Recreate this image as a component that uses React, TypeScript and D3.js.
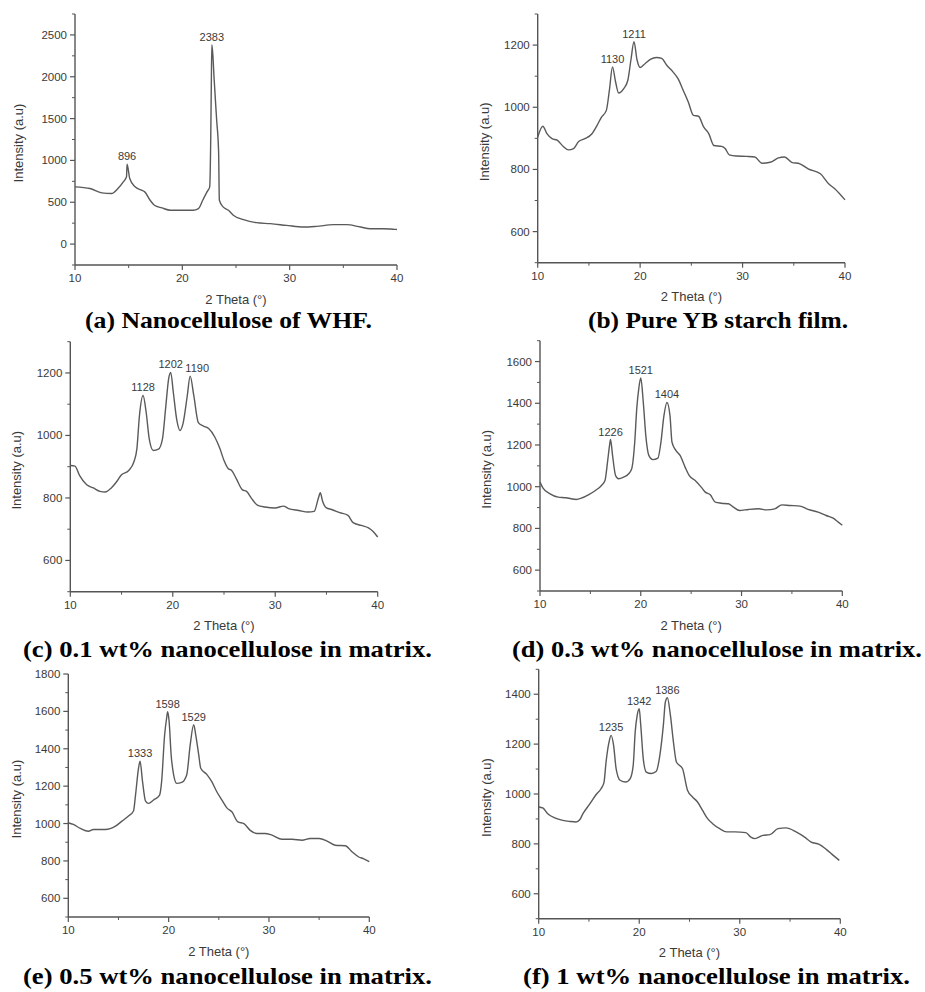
import React from "react";
import * as d3 from "d3";

// ---------- DATA ----------
const twoThetaA = [10, 11.4, 12.5, 13.4, 14.0, 14.5, 14.8, 14.85, 15.1, 15.6, 16.2, 16.5, 17.0, 17.4, 18.1, 18.9, 20.1, 21.0, 21.5, 21.9, 22.3, 22.55, 22.65, 22.7, 22.75, 22.85, 22.95, 23.2, 23.38, 23.45, 23.8, 24.3, 24.75, 25.7, 26.9, 28.2, 29.7, 31.3, 32.5, 34.1, 35.3, 36.6, 37.5, 38.7, 39.8, 40];
const intensityA = [684, 664, 612, 604, 664, 744, 804, 955, 784, 684, 644, 624, 524, 464, 432, 404, 404, 404, 424, 524, 624, 684, 1300, 1900, 2383, 2250, 2000, 1480, 1100, 524, 444, 404, 344, 292, 256, 244, 224, 204, 212, 232, 232, 204, 184, 184, 176, 175];

const twoThetaB = [10, 10.5, 10.9, 11.4, 11.9, 12.5, 13.0, 13.5, 14.0, 14.6, 15.3, 15.8, 16.2, 16.7, 17.0, 17.3, 17.6, 17.9, 18.4, 18.8, 19.1, 19.4, 19.7, 20.0, 20.5, 21.0, 21.6, 22.1, 22.6, 23.2, 23.7, 24.2, 24.7, 25.2, 25.7, 26.2, 26.7, 27.2, 27.96, 28.3, 28.7, 29.4, 30.4, 31.2, 31.9, 32.7, 33.5, 34.1, 34.8, 35.6, 36.4, 37.6, 38.4, 39.0, 40];
const intensityB = [904, 939, 915, 899, 894, 874, 863, 867, 890, 899, 915, 942, 967, 990, 1055, 1130, 1082, 1046, 1060, 1087, 1152, 1211, 1152, 1128, 1141, 1154, 1160, 1157, 1135, 1114, 1092, 1055, 1017, 974, 971, 937, 915, 877, 874, 867, 847, 843, 842, 840, 820, 823, 837, 840, 823, 818, 802, 786, 754, 738, 702];

const twoThetaC = [10, 10.45, 10.9, 11.6, 12.25, 12.9, 13.4, 14.0, 14.5, 15.0, 15.7, 16.2, 16.5, 16.75, 17.1, 17.4, 17.7, 18.1, 18.6, 19.0, 19.3, 19.6, 19.8, 20.05, 20.4, 20.7, 21.0, 21.4, 21.7, 22.05, 22.5, 23.0, 23.5, 24.1, 24.6, 25.0, 25.4, 25.75, 26.2, 26.8, 27.2, 27.7, 28.3, 29.0, 30.0, 30.8, 31.3, 32.3, 33.2, 33.8, 34.2, 34.4, 34.6, 35.0, 35.5, 36.3, 37.1, 37.6, 38.4, 39.1, 39.6, 40];
const intensityC = [904, 902, 872, 842, 832, 821, 819, 832, 851, 874, 888, 915, 958, 1064, 1128, 1075, 990, 952, 956, 990, 1086, 1182, 1202, 1139, 1048, 1016, 1038, 1123, 1190, 1128, 1041, 1030, 1022, 995, 958, 920, 894, 888, 862, 826, 821, 798, 776, 771, 768, 774, 766, 760, 755, 757, 798, 817, 792, 768, 763, 753, 744, 721, 712, 704, 691, 675];

const twoThetaD = [10, 10.3, 11.0, 11.8, 12.6, 13.1, 13.6, 14.1, 14.8, 15.5, 16.1, 16.45, 16.7, 16.9, 17.0, 17.2, 17.5, 17.8, 18.3, 18.8, 19.1, 19.4, 19.6, 19.8, 20.0, 20.25, 20.5, 20.8, 21.2, 21.7, 22.0, 22.3, 22.6, 22.9, 23.1, 23.5, 23.9, 24.4, 24.8, 25.4, 26.0, 26.4, 26.9, 27.4, 28.0, 28.7, 29.2, 29.8, 30.7, 31.7, 32.5, 33.3, 34.0, 34.8, 35.8, 36.6, 37.6, 38.4, 39.1, 39.6, 40];
const intensityD = [1022, 993, 966, 950, 947, 942, 939, 945, 961, 982, 1006, 1030, 1118, 1197, 1226, 1150, 1054, 1038, 1046, 1062, 1086, 1213, 1373, 1469, 1521, 1405, 1245, 1150, 1130, 1137, 1213, 1341, 1404, 1341, 1213, 1173, 1150, 1094, 1054, 1030, 998, 974, 961, 926, 921, 918, 902, 886, 891, 894, 889, 894, 913, 910, 907, 891, 878, 862, 849, 830, 815];

const twoThetaE = [10, 10.5, 11.2, 12.0, 12.5, 13.7, 14.7, 15.35, 16.0, 16.5, 16.7, 17.0, 17.15, 17.4, 17.7, 18.0, 18.5, 19.1, 19.3, 19.6, 19.8, 19.9, 20.05, 20.25, 20.5, 20.8, 21.3, 21.8, 22.15, 22.5, 22.7, 23.0, 23.2, 23.8, 24.3, 24.8, 25.3, 25.8, 26.3, 26.9, 27.5, 28.1, 28.8, 29.6, 30.3, 31.3, 32.3, 33.3, 34.1, 35.0, 35.8, 36.6, 37.6, 38.3, 38.95, 39.4, 40];
const intensityE = [1004, 995, 974, 959, 968, 968, 986, 1013, 1040, 1067, 1152, 1296, 1333, 1224, 1120, 1108, 1126, 1152, 1224, 1474, 1564, 1598, 1546, 1367, 1260, 1215, 1220, 1260, 1421, 1529, 1474, 1367, 1296, 1263, 1224, 1170, 1126, 1084, 1063, 1009, 1000, 965, 947, 947, 938, 916, 916, 911, 920, 920, 906, 884, 881, 848, 821, 812, 796];

const twoThetaF = [10, 10.4, 10.9, 11.6, 12.4, 13.1, 13.7, 14.1, 14.4, 15.1, 15.7, 16.2, 16.5, 16.7, 17.0, 17.2, 17.45, 17.7, 18.1, 18.65, 19.1, 19.4, 19.6, 19.8, 20.0, 20.15, 20.4, 20.7, 21.2, 21.7, 22.0, 22.4, 22.6, 22.8, 23.1, 23.4, 23.7, 24.3, 24.8, 25.3, 25.8, 26.3, 26.8, 27.3, 28.0, 28.7, 29.5, 30.6, 31.1, 31.5, 32.3, 33.0, 33.8, 34.6, 35.6, 36.45, 37.1, 37.9, 38.6, 39.3, 39.9];
const intensityF = [948, 944, 921, 904, 894, 890, 888, 898, 921, 961, 997, 1021, 1048, 1128, 1209, 1235, 1195, 1102, 1055, 1048, 1062, 1115, 1249, 1316, 1342, 1276, 1142, 1088, 1082, 1091, 1142, 1276, 1369, 1386, 1316, 1209, 1128, 1102, 1015, 988, 968, 934, 901, 881, 861, 848, 848, 845, 827, 821, 834, 837, 861, 864, 848, 827, 807, 798, 778, 754, 734];

const peakThetaA = [14.85, 22.75];
const peakTextA = ["896", "2383"];
const peakThetaB = [17.3, 19.4];
const peakTextB = ["1130", "1211"];
const peakThetaC = [17.1, 19.8, 21.7];
const peakTextC = ["1128", "1202", "1190"];
const peakThetaD = [17.0, 20.0, 22.6];
const peakTextD = ["1226", "1521", "1404"];
const peakThetaE = [17.15, 19.9, 22.5];
const peakTextE = ["1333", "1598", "1529"];
const peakThetaF = [17.2, 20.0, 22.8];
const peakTextF = ["1235", "1342", "1386"];

const xTicks = [10, 20, 30, 40];
const xMinorTicks = [15, 25, 35];
const yTicksA = [0, 500, 1000, 1500, 2000, 2500];
const yTicksB = [600, 800, 1000, 1200];
const yTicksC = [600, 800, 1000, 1200];
const yTicksD = [600, 800, 1000, 1200, 1400, 1600];
const yTicksE = [600, 800, 1000, 1200, 1400, 1600, 1800];
const yTicksF = [600, 800, 1000, 1200, 1400];

const captionA = "(a) Nanocellulose of WHF.";
const captionB = "(b) Pure YB starch film.";
const captionC = "(c) 0.1 wt% nanocellulose in matrix.";
const captionD = "(d) 0.3 wt% nanocellulose in matrix.";
const captionE = "(e) 0.5 wt% nanocellulose in matrix.";
const captionF = "(f) 1 wt% nanocellulose in matrix.";

const xTitle = "2 Theta (\u00B0)";
const yTitle = "Intensity (a.u)";

// ---------- LAYOUT ----------
const panels = [
  { xs: twoThetaA, ys: intensityA, px: peakThetaA, pt: peakTextA, yTicks: yTicksA, yDomain: [-250, 2750], minor: 250,
    left: 75, right: 397, top: 14, bottom: 265, yTitleOff: 57, cap: captionA, capX: 85, capW: 287, capY: 328 },
  { xs: twoThetaB, ys: intensityB, px: peakThetaB, pt: peakTextB, yTicks: yTicksB, yDomain: [500, 1300], minor: 100,
    left: 537.7, right: 845, top: 14, bottom: 262.7, yTitleOff: 53, cap: captionB, capX: 588, capW: 260, capY: 328 },
  { xs: twoThetaC, ys: intensityC, px: peakThetaC, pt: peakTextC, yTicks: yTicksC, yDomain: [500, 1300], minor: 100,
    left: 70.3, right: 377.7, top: 341.7, bottom: 591.7, yTitleOff: 53.5, cap: captionC, capX: 23, capW: 409, capY: 657, nudge: [0, 0, 7] },
  { xs: twoThetaD, ys: intensityD, px: peakThetaD, pt: peakTextD, yTicks: yTicksD, yDomain: [500, 1700], minor: 100,
    left: 540, right: 842.3, top: 340.7, bottom: 591, yTitleOff: 53.3, cap: captionD, capX: 512, capW: 410, capY: 657 },
  { xs: twoThetaE, ys: intensityE, px: peakThetaE, pt: peakTextE, yTicks: yTicksE, yDomain: [500, 1800], minor: 100,
    left: 68.3, right: 369.3, top: 674, bottom: 917, yTitleOff: 52.3, cap: captionE, capX: 23, capW: 409, capY: 984 },
  { xs: twoThetaF, ys: intensityF, px: peakThetaF, pt: peakTextF, yTicks: yTicksF, yDomain: [500, 1500], minor: 100,
    left: 538.7, right: 840.3, top: 669.3, bottom: 918.7, yTitleOff: 52.7, cap: captionF, capX: 523, capW: 387, capY: 984 },
];

const SANS = "Liberation Sans, Arial, Helvetica, sans-serif";
const SERIF = "Liberation Serif, Times New Roman, Times, serif";
const AXIS = "#555";
const TXT = "#3a3a3a";
const LINE = "#5a5a5a";

function Panel({ p }: { p: any }) {
  const x = d3.scaleLinear().domain([10, 40]).range([p.left, p.right]);
  const y = d3.scaleLinear().domain(p.yDomain).range([p.bottom, p.top]);
  const line = d3
    .line<number>()
    .x((_, i) => x(p.xs[i]))
    .y((d) => y(d))
    .curve(d3.curveMonotoneX);
  const minorY = d3
    .range(p.yDomain[0], p.yDomain[1] + 1, p.minor)
    .filter((v: number) => !p.yTicks.includes(v));
  const cy = (p.top + p.bottom) / 2 + 3.5;
  const tx = p.left - p.yTitleOff;
  const sans = { fontFamily: SANS };
  return (
    <g>
      <line x1={p.left} x2={p.left} y1={p.top} y2={p.bottom} stroke={AXIS} strokeWidth={1.4} />
      <line x1={p.left} x2={p.right} y1={p.bottom} y2={p.bottom} stroke={AXIS} strokeWidth={1.4} />
      {p.yTicks.map((t: number) => (
        <g key={"y" + t}>
          <line x1={p.left - 5} x2={p.left} y1={y(t)} y2={y(t)} stroke={AXIS} strokeWidth={1.2} />
          <text x={p.left - 8} y={y(t)} dy="0.35em" textAnchor="end" fontSize={11.5} style={sans} fill={TXT}>
            {t}
          </text>
        </g>
      ))}
      {minorY.map((t: number) => (
        <line key={"ym" + t} x1={p.left - 3} x2={p.left} y1={y(t)} y2={y(t)} stroke={AXIS} strokeWidth={1} />
      ))}
      {xTicks.map((t) => (
        <g key={"x" + t}>
          <line x1={x(t)} x2={x(t)} y1={p.bottom} y2={p.bottom + 5} stroke={AXIS} strokeWidth={1.2} />
          <text x={x(t)} y={p.bottom + 17} textAnchor="middle" fontSize={11.5} style={sans} fill={TXT}>
            {t}
          </text>
        </g>
      ))}
      {xMinorTicks.map((t) => (
        <line key={"xm" + t} x1={x(t)} x2={x(t)} y1={p.bottom} y2={p.bottom + 3} stroke={AXIS} strokeWidth={1} />
      ))}
      <text x={(p.left + p.right) / 2} y={p.bottom + 38.5} textAnchor="middle" fontSize={13} style={sans} fill={TXT}>
        {xTitle}
      </text>
      <text
        transform={`translate(${tx},${cy}) rotate(-90)`}
        dy="0.35em"
        textAnchor="middle"
        fontSize={13}
        style={sans}
        fill={TXT}
      >
        {yTitle}
      </text>
      <path d={line(p.ys) || ""} fill="none" stroke={LINE} strokeWidth={1.4} strokeLinejoin="round" />
      {p.px.map((px: number, i: number) => {
        const idx = d3.minIndex(p.xs, (v: number) => Math.abs(v - px));
        const v = p.ys[idx];
        const dx = p.nudge ? p.nudge[i] : 0;
        return (
          <text key={"pk" + i} x={x(p.xs[idx]) + dx} y={y(v) - 4} textAnchor="middle" fontSize={11} style={sans} fill={TXT}>
            {p.pt[i]}
          </text>
        );
      })}
      <text
        x={p.capX}
        y={p.capY}
        textLength={p.capW}
        lengthAdjust="spacingAndGlyphs"
        style={{ fontFamily: SERIF, fontSize: "22.5px", fontWeight: 700 }}
        fill="#000"
      >
        {p.cap}
      </text>
    </g>
  );
}

export default function App() {
  return (
    <svg
      width={925}
      height={992}
      viewBox="0 0 925 992"
      style={{ position: "absolute", left: 0, top: 0, background: "#fff" }}
    >
      <rect x={0} y={0} width={925} height={992} fill="#fff" />
      {panels.map((p, i) => (
        <Panel key={i} p={p} />
      ))}
    </svg>
  );
}
